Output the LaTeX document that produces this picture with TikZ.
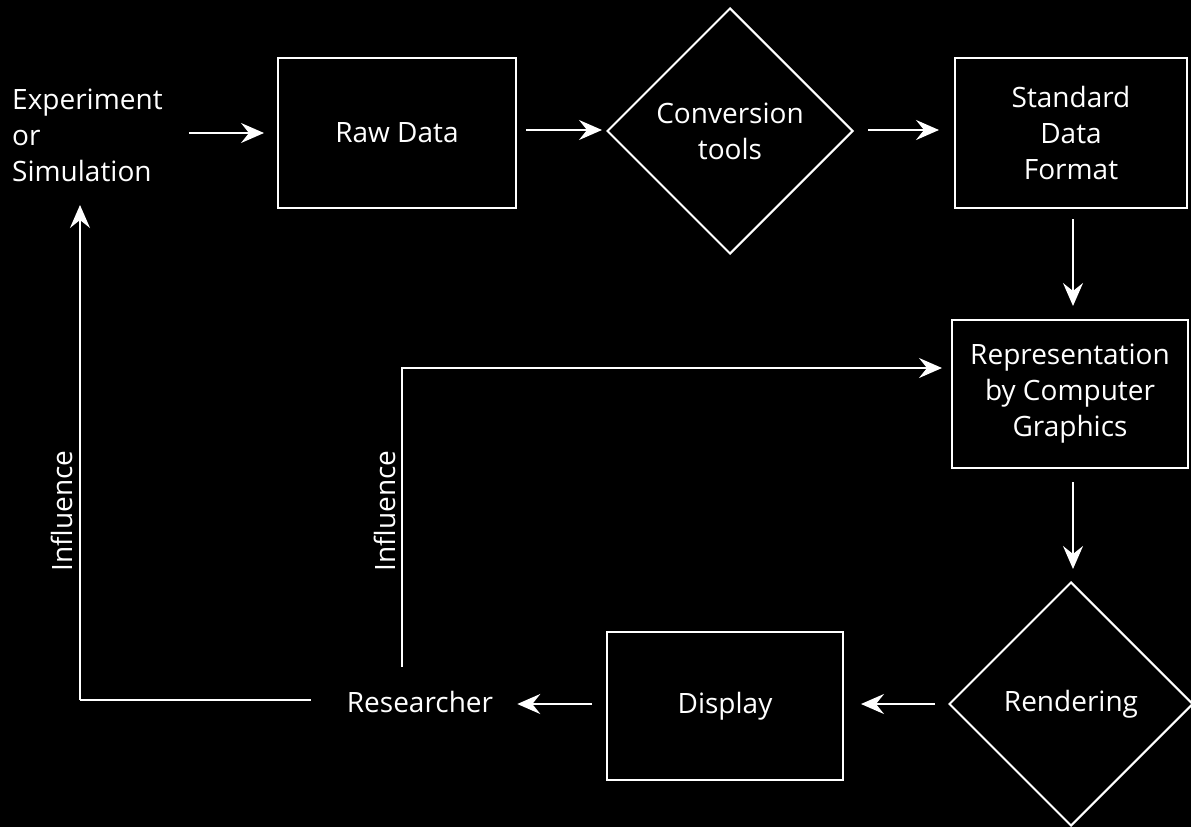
\documentclass[tikz,border=0pt]{standalone}
\usepackage{fontspec}
\setmainfont{Open Sans}
\usetikzlibrary{shapes.geometric,arrows.meta,calc}
\begin{document}
\begin{tikzpicture}[x=1pt,y=-1pt,
  every node/.style={text=white,font=\fontsize{28}{36}\selectfont,align=center},
  boxnode/.style={draw=white,line width=2pt,rectangle,inner sep=0pt},
  dianode/.style={draw=white,line width=2pt,diamond,aspect=1,inner sep=0pt},
  plain/.style={inner sep=0pt},
  arr/.style={draw=white,line width=2pt,-{Stealth[length=23pt,width=20pt,inset=8pt]}},
  conn/.style={draw=white,line width=2pt}]
\fill[black] (0,0) rectangle (1191,827);
\useasboundingbox (0,0) rectangle (1191,827);

\node[plain,anchor=west,align=left] (exp) at (12,135) {Experiment\\or\\Simulation};
\node[boxnode,minimum width=238pt,minimum height=150pt] (raw) at (397,133) {Raw Data};
\node[dianode,minimum width=246pt,minimum height=246pt] (conv) at (730,131) {Conversion\\tools};
\node[boxnode,minimum width=232pt,minimum height=150pt] (std) at (1071,133) {Standard\\Data\\Format};
\node[boxnode,minimum width=236pt,minimum height=148pt] (rep) at (1070,394) {Representation\\by Computer\\Graphics};
\node[dianode,minimum width=244pt,minimum height=244pt] (rend) at (1071,704) {Rendering};
\node[boxnode,minimum width=236pt,minimum height=148pt] (disp) at (725,706) {Display};
\node[plain] (res) at (420,702) {Researcher};

\coordinate (lc) at (80,700);
\coordinate (expin) at (80,205);
\coordinate (rs) at (402,667);
\coordinate (repin) at (942,368);

\draw[arr,shorten <=26pt,shorten >=13pt] (exp.east |- raw.west) -- (raw.west);
\draw[arr,shorten <=9pt,shorten >=4pt] (raw.east |- 0,130) -- (conv.west |- 0,130);
\draw[arr,shorten <=14pt,shorten >=15pt] (conv.east |- 0,130) -- (std.west |- 0,130);
\draw[arr,shorten <=10pt,shorten >=13pt] (std.south -| 1073,0) -- (rep.north -| 1073,0);
\draw[arr,shorten <=13pt,shorten >=12pt] (rep.south -| 1073,0) -- (rend.north -| 1073,0);
\draw[arr,shorten <=13pt,shorten >=17pt] (rend.west) -- (disp.east |- rend.west);
\draw[arr,shorten <=14pt,shorten >=24pt] (disp.west |- rend.west) -- (res.east |- rend.west);

\draw[conn,shorten <=36pt] (res.west |- lc) -- (lc);
\draw[arr] (lc) -- (expin);
\node[plain,rotate=90] (infl1) at (62,511) {Influence};

\draw[arr] (rs) |- (repin);
\node[plain,rotate=90] (infl2) at (385,511) {Influence};
\end{tikzpicture}
\end{document}
